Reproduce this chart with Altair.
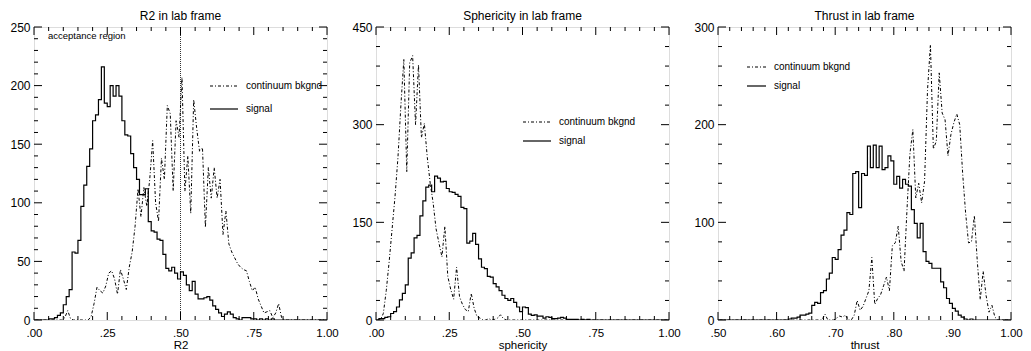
import altair as alt
import numpy as np
import pandas as pd

# ---------------- data (histogram bin contents) -------------
# R2 in lab frame: 100 bins of 0.01 on [0, 1]
r2_signal = [0, 0, 0, 0, 0, 1, 1, 2, 4, 6,
             13, 20, 26, 58, 57, 68, 97, 115, 131, 146,
             170, 175, 188, 216, 185, 182, 200, 191, 200, 191,
             170, 158, 157, 142, 130, 120, 107, 107, 112, 84,
             76, 75, 69, 68, 56, 44, 42, 45, 40, 35,
             41, 38, 30, 25, 33, 22, 18, 18, 19, 20,
             17, 12, 9, 6, 3, 5, 7, 5, 2, 1,
             0, 2, 2, 2, 1, 1, 0, 1, 0, 1,
             0, 1, 0, 0, 0, 0, 0, 0, 0, 0,
             0, 0, 0, 0, 0, 0, 0, 0, 0, 0]
r2_bkgnd = [0, 0, 0, 0, 0, 0, 0, 0, 0, 0,
            2, 8, 1, 0, 0, 0, 0, 0, 0, 3,
            14, 28, 25, 23, 29, 40, 42, 35, 22, 43,
            35, 26, 45, 58, 80, 112, 88, 113, 97, 120,
            153, 100, 84, 138, 120, 183, 176, 110, 170, 156,
            207, 110, 140, 91, 188, 164, 144, 147, 79, 130,
            104, 130, 104, 120, 73, 93, 65, 58, 53, 48,
            45, 43, 42, 33, 25, 28, 18, 12, 6, 7,
            8, 2, 6, 14, 2, 0, 0, 0, 0, 0,
            0, 0, 0, 0, 0, 0, 0, 0, 0, 0]

# Sphericity in lab frame: 100 bins of 0.01 on [0, 1]
sph_signal = [0, 2, 2, 4, 5, 10, 13, 20, 31, 41,
              54, 95, 103, 126, 130, 160, 183, 204, 207, 197,
              221, 218, 212, 213, 202, 197, 196, 193, 190, 173,
              171, 118, 121, 133, 116, 94, 81, 79, 67, 66,
              56, 51, 45, 38, 33, 30, 33, 27, 20, 13,
              20, 19, 9, 7, 8, 6, 6, 3, 5, 4,
              2, 2, 3, 4, 3, 1, 1, 1, 1, 0,
              1, 0, 1, 0, 0, 0, 0, 0, 0, 0,
              0, 0, 0, 0, 0, 0, 0, 0, 0, 0,
              0, 0, 0, 0, 0, 0, 0, 0, 0, 0]
sph_bkgnd = [0, 0, 10, 45, 90, 140, 190, 250, 330, 400,
             228, 395, 406, 300, 392, 280, 302, 250, 210, 180,
             140, 118, 97, 144, 67, 47, 32, 81, 36, 24,
             16, 13, 41, 18, 5, 3, 0, 0, 2, 0,
             1, 3, 8, 2, 0, 0, 0, 0, 0, 0,
             0, 0, 0, 0, 0, 0, 0, 0, 0, 0,
             0, 0, 0, 0, 0, 0, 0, 0, 0, 0,
             0, 0, 0, 0, 0, 0, 0, 0, 0, 0,
             0, 0, 0, 0, 0, 0, 0, 0, 0, 0,
             0, 0, 0, 0, 0, 0, 0, 0, 0, 0]

# Thrust in lab frame: 100 bins of 0.005 on [0.5, 1]
thr_signal = [0, 0, 0, 0, 0, 0, 0, 0, 0, 0,
              0, 0, 0, 0, 0, 0, 0, 0, 0, 0,
              0, 0, 0, 0, 1, 2, 2, 3, 5, 5,
              6, 7, 15, 18, 17, 28, 30, 42, 48, 64,
              62, 72, 87, 92, 110, 108, 150, 152, 115, 150,
              148, 178, 156, 179, 156, 178, 154, 156, 168, 163,
              139, 147, 135, 144, 139, 137, 113, 99, 84, 99,
              70, 60, 58, 53, 53, 53, 39, 33, 22, 17,
              12, 9, 5, 3, 1, 0, 1, 0, 0, 0,
              0, 0, 0, 0, 0, 0, 0, 0, 0, 0]
thr_bkgnd = [0, 0, 0, 0, 0, 0, 0, 0, 0, 0,
             0, 0, 0, 0, 0, 0, 0, 0, 0, 0,
             0, 0, 0, 0, 0, 0, 0, 0, 0, 0,
             0, 0, 0, 0, 0, 0, 6, 0, 0, 0,
             2, 4, 3, 5, 0, 0, 5, 20, 10, 14,
             22, 30, 64, 16, 22, 26, 35, 44, 30, 76,
             79, 96, 60, 50, 113, 170, 195, 125, 140, 120,
             142, 235, 282, 175, 183, 253, 212, 205, 168, 190,
             202, 211, 200, 150, 110, 79, 80, 107, 60, 21,
             50, 25, 8, 15, 3, 0, 0, 0, 0, 0]

titles = ["R2 in lab frame", "Sphericity in lab frame", "Thrust in lab frame"]
xtitles = ["R2", "sphericity", "thrust"]
legend_labels = ["continuum bkgnd", "signal"]
note_text = "acceptance region"

# ---------------- layout / style ----------------
W = 293
H = 293
FONT = "Liberation Sans"
BK_DASH = [3, 2, 1, 2]
LABEL_EXPR = ("datum.value >= 1 ? format(datum.value, '.2f') : "
              "replace(format(datum.value, '.2f'), '0.', '.')")


def panel(title, xtitle, xmin, xmax, binw, sig, bkg, ymax,
          xmajor, xminor, ymajor, yminor, leg, cut=None, note=None):
    leg_x, leg_y, leg_len, leg_gap = leg
    n = len(sig)
    edges = xmin + binw * np.arange(n + 1)
    centers = xmin + binw * (np.arange(n) + 0.5)
    sdf = pd.DataFrame({"x": edges, "v": list(sig) + [sig[-1]]})
    bdf = pd.DataFrame({"x": centers, "v": bkg})
    xs = alt.Scale(domain=[xmin, xmax], nice=False, zero=False)
    ys = alt.Scale(domain=[0, ymax], nice=False)
    ax_x = alt.Axis(values=xmajor, title=xtitle, labelExpr=LABEL_EXPR,
                    ticks=False, grid=False, domain=False,
                    labelPadding=7, labelFlush=False,
                    titleY=28, titleBaseline="alphabetic",
                    labelFontSize=11.5, titleFontSize=11.5,
                    titleFontWeight="normal", labelFont=FONT, titleFont=FONT,
                    labelColor="black", titleColor="black")
    ax_y = alt.Axis(values=ymajor, title=None, ticks=False,
                    grid=False, domain=False, labelPadding=4,
                    labelFontSize=12, labelFont=FONT, labelColor="black")

    def X(f):
        return alt.X(f, scale=xs, axis=ax_x)

    def Y(f):
        return alt.Y(f, scale=ys, axis=ax_y)

    layers = []
    layers.append(alt.Chart(sdf).mark_line(
        interpolate="step-after", color="black", strokeWidth=1.2, clip=True
    ).encode(x=X("x:Q"), y=Y("v:Q")))
    layers.append(alt.Chart(bdf).mark_line(
        color="black", strokeWidth=1, strokeDash=BK_DASH, clip=True
    ).encode(x=X("x:Q"), y=Y("v:Q")))

    if cut is not None:
        layers.append(alt.Chart(pd.DataFrame({"x": cut})).mark_rule(
            color="black", strokeWidth=0.8, strokeDash=[1, 1]).encode(x=X("x:Q")))

    # inward ticks on all four sides
    for vals, ln in ((xmajor, 8), (xminor, 4)):
        d = pd.DataFrame({"t": vals})
        for y0, y1 in ((H, H - ln), (0, ln)):
            layers.append(alt.Chart(d).mark_rule(color="black", strokeWidth=1).encode(
                x=X("t:Q"), y=alt.value(y0), y2=alt.value(y1)))
    for vals, ln in ((ymajor, 8), (yminor, 4)):
        d = pd.DataFrame({"t": vals})
        for x0, x1 in ((0, ln), (W, W - ln)):
            layers.append(alt.Chart(d).mark_rule(color="black", strokeWidth=1).encode(
                y=Y("t:Q"), x=alt.value(x0), x2=alt.value(x1)))

    one = pd.DataFrame({"a": [0]})
    tx = leg_x + leg_len + 8
    layers += [
        alt.Chart(one).mark_rule(color="black", strokeWidth=1, strokeDash=BK_DASH).encode(
            x=alt.value(leg_x), x2=alt.value(leg_x + leg_len), y=alt.value(leg_y)),
        alt.Chart(one).mark_rule(color="black", strokeWidth=1.2).encode(
            x=alt.value(leg_x), x2=alt.value(leg_x + leg_len), y=alt.value(leg_y + leg_gap)),
        alt.Chart(one).mark_text(align="left", baseline="middle", fontSize=10,
                                 font=FONT, color="black").encode(
            x=alt.value(tx), y=alt.value(leg_y), text=alt.value(legend_labels[0])),
        alt.Chart(one).mark_text(align="left", baseline="middle", fontSize=10,
                                 font=FONT, color="black").encode(
            x=alt.value(tx), y=alt.value(leg_y + leg_gap), text=alt.value(legend_labels[1])),
    ]
    if note is not None:
        layers.append(alt.Chart(one).mark_text(
            align="left", baseline="middle", fontSize=9.5, font=FONT, color="black").encode(
            x=alt.value(14), y=alt.value(9), text=alt.value(note)))

    return alt.layer(*layers).properties(
        width=W, height=H,
        title=alt.TitleParams(title, fontSize=12, font=FONT, fontWeight="normal",
                              offset=-2, color="black"))


x_major_01 = [0, 0.25, 0.5, 0.75, 1.0]
x_minor_01 = [0.05, 0.1, 0.15, 0.2, 0.3, 0.35, 0.4, 0.45, 0.55, 0.6, 0.65, 0.7, 0.8, 0.85, 0.9, 0.95]
x_major_thr = [0.5, 0.6, 0.7, 0.8, 0.9, 1.0]
x_minor_thr = [0.52, 0.54, 0.56, 0.58, 0.62, 0.64, 0.66, 0.68, 0.72, 0.74, 0.76, 0.78,
               0.82, 0.84, 0.86, 0.88, 0.92, 0.94, 0.96, 0.98]

p1 = panel(titles[0], xtitles[0], 0, 1, 0.01, r2_signal, r2_bkgnd, 250,
           x_major_01, x_minor_01, [0, 50, 100, 150, 200, 250],
           [v for v in range(0, 251, 10) if v % 50], (176, 59, 28, 23),
           cut=[0.5], note=note_text)
p2 = panel(titles[1], xtitles[1], 0, 1, 0.01, sph_signal, sph_bkgnd, 450,
           x_major_01, x_minor_01, [0, 150, 300, 450],
           [v for v in range(0, 451, 30) if v % 150], (147, 95, 28, 19))
p3 = panel(titles[2], xtitles[2], 0.5, 1.0, 0.005, thr_signal, thr_bkgnd, 300,
           x_major_thr, x_minor_thr, [0, 100, 200, 300],
           [v for v in range(0, 301, 20) if v % 100], (29, 40, 19, 19))

chart = alt.hconcat(p1, p2, p3, spacing=12).properties(
    padding={"left": 9, "top": 9, "right": 4, "bottom": 0}
).configure_view(stroke="black", strokeWidth=1).configure(background="white")

chart.save("out.html", embed_options={"renderer": "svg", "actions": False})
